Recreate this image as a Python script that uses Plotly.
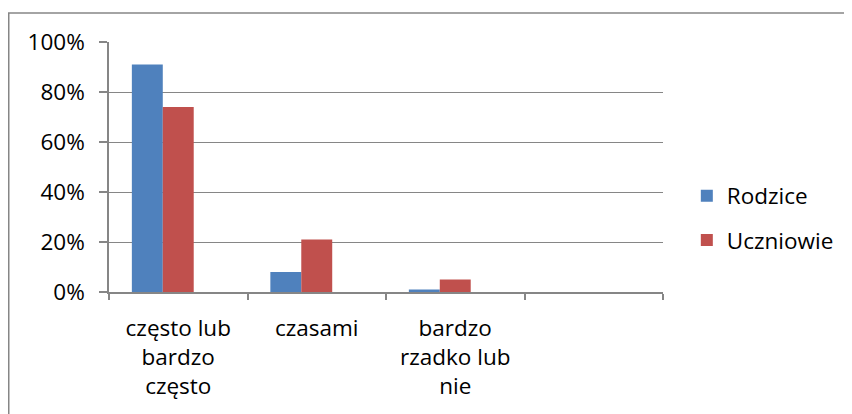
import plotly.graph_objects as go

categories = ["często lub<br>bardzo<br>często", "czasami", "bardzo<br>rzadko lub<br>nie", " "]
rodzice = [0.91, 0.08, 0.01, None]
uczniowie = [0.74, 0.21, 0.05, None]
seria3 = [None, None, None, None]  # empty third series of the original chart
y_ticks = [0, 0.2, 0.4, 0.6, 0.8, 1.0]

FONT = "Open Sans"
FS = 22.5
GRAY = "#868686"

# page has an 8px body margin, so the figure is sized/offset to compensate
W, H = 844, 406
ML, MR, MT, MB = 101, 189, 34, 122
PW = W - ML - MR
PH = H - MT - MB

fig = go.Figure()
fig.add_trace(go.Bar(x=categories, y=rodzice, name="Rodzice",
                     marker=dict(color="#4F81BD", line=dict(width=0)),
                     legendgroup="a"))
fig.add_trace(go.Bar(x=categories, y=uczniowie, name="Uczniowie",
                     marker=dict(color="#C0504D", line=dict(width=0)),
                     legendgroup="b"))
fig.add_trace(go.Bar(x=categories, y=seria3, name="Seria3",
                     marker=dict(color="#9BBB59"), showlegend=False))

fig.update_layout(
    width=W, height=H,
    margin=dict(l=ML, r=MR, t=MT, b=MB),
    paper_bgcolor="white", plot_bgcolor="white",
    barmode="group", bargap=0.33, bargroupgap=0,
    font=dict(family=FONT, size=FS, color="black"),
    showlegend=True,
    legend=dict(x=1.043, xanchor="left", y=0.296, yanchor="middle",
                font=dict(family=FONT, size=FS, color="black"),
                tracegroupgap=12, traceorder="grouped",
                bgcolor="rgba(0,0,0,0)"),
    xaxis=dict(type="category", showline=True, linecolor=GRAY, linewidth=1.5,
               ticks="outside", tickson="boundaries", ticklen=6, tickcolor=GRAY,
               tickwidth=1.5, showgrid=False, ticklabelstandoff=15,
               tickfont=dict(family=FONT, size=FS)),
    yaxis=dict(range=[0, 1], tickvals=y_ticks, tickformat=".0%",
               showline=True, linecolor=GRAY, linewidth=1.5,
               ticks="outside", ticklen=8, tickcolor=GRAY, tickwidth=1.5,
               showgrid=True, gridcolor=GRAY, gridwidth=1.2,
               zeroline=False, ticklabelstandoff=10,
               tickfont=dict(family=FONT, size=FS)),
    shapes=[dict(type="rect", xref="paper", yref="paper",
                 x0=(0.75 - ML) / PW, x1=2.0, y0=-1.0, y1=1 + (MT - 5) / PH,
                 line=dict(color=GRAY, width=1.5), fillcolor="rgba(0,0,0,0)",
                 layer="below")],
)

fig.write_html("out.html")
